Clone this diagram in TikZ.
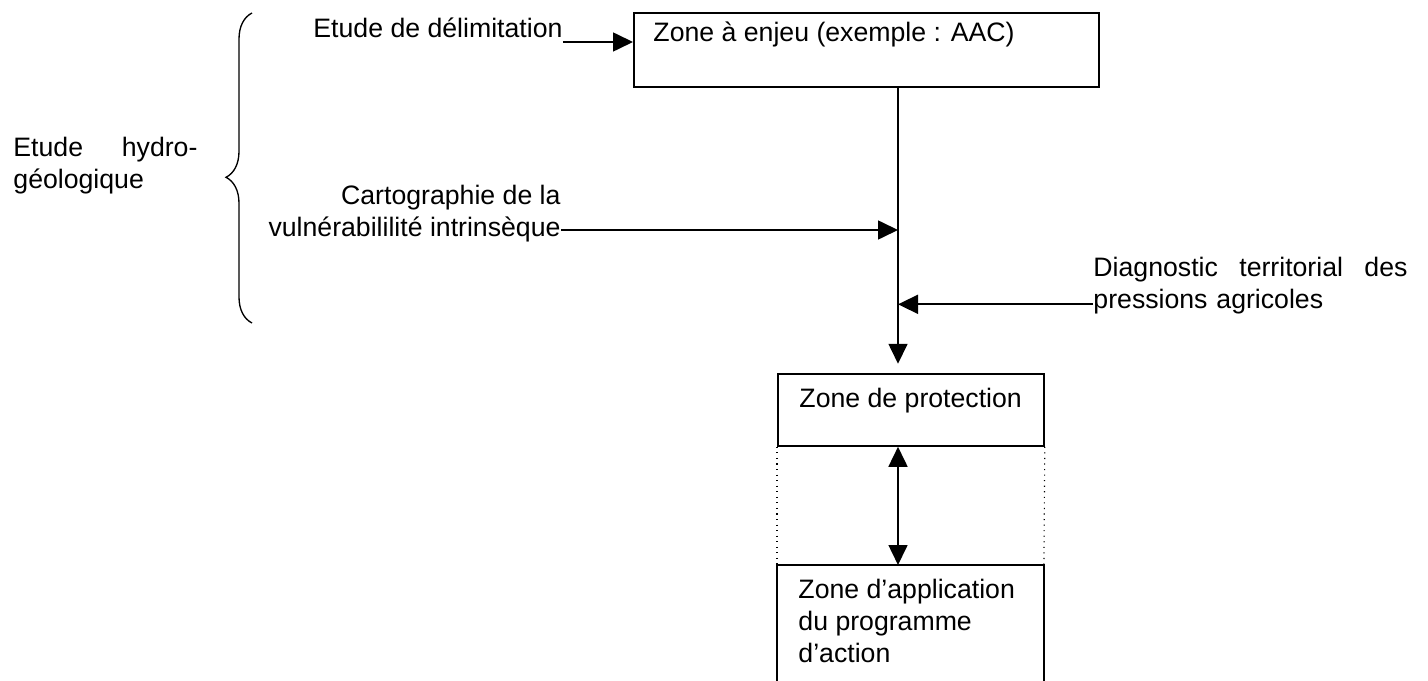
\documentclass[tikz,border=0pt]{standalone}
\usepackage{fontspec}
\setmainfont{Liberation Sans}
\usetikzlibrary{arrows.meta,decorations.pathreplacing}

\begin{document}
\begin{tikzpicture}[x=0.45pt,y=-0.45pt,
  every node/.style={inner sep=0pt,font=\fontsize{12pt}{14.4pt}\selectfont},
  zone/.style={draw,line width=0.8pt,anchor=north west},
  arr/.style={-{Triangle[length=9pt,width=8.5pt]},line width=0.9pt},
  dbl/.style={{Triangle[length=9pt,width=8.5pt]}-{Triangle[length=9pt,width=8.5pt]},line width=0.9pt}]
\useasboundingbox (0,0) rectangle (1428,681);

% boxes
\node[zone,minimum width=209.25pt,minimum height=33.3pt] (enjeu) at (633,12) {};
\node[zone,minimum width=119.7pt,minimum height=32.4pt] (protect) at (777,373) {};
\node[anchor=north west,minimum width=119.7pt,minimum height=52.2pt] (appli) at (777,565) {};
\draw[line width=0.8pt] (appli.south west) -- (appli.north west) -- (appli.north east) -- (appli.south east);

\node[anchor=base west] (enjeutxt) at ([shift={(20,30)}]enjeu.north west) {Zone à enjeu (exemple : AAC)};
\node[anchor=base west] (protecttxt) at ([shift={(22,34)}]protect.north west) {Zone de protection};
\node[anchor=base west,align=left] (applitxt) at ([shift={(21,97)}]appli.north west) {Zone d’application\\du programme\\d’action};

% studies
\node[anchor=base west] (delim) at (313,38) {Etude de délimitation};
\node[anchor=base west,text width=82.8pt,align=left] (hydro) at (13,157) {Etude\hfill hydro-\\géologique};
\node[anchor=base east,align=right] (carto) at (561,237) {Cartographie de la\\vulnérabililité intrinsèque};
\node[anchor=base west,text width=141.3pt,align=left] (diag) at (1093,277) {Diagnostic\hfill territorial\hfill des\\pressions agricoles};
\draw[line width=0.6pt,decorate,decoration={brace,amplitude=11.7pt,aspect=0.47}] (252,323) -- (252,13);

% arrows
\coordinate (xa) at (898,0);
\coordinate (d1) at ([yshift=-1.8pt]delim.base east);
\coordinate (c1) at ([yshift=3.15pt]carto.base east);
\coordinate (p1) at ([yshift=4.8pt]diag.south west);
\draw[arr] (d1) -- (d1 -| enjeu.west);
\draw[arr] (enjeu.south -| xa) -- ++(0,276);
\draw[arr] (c1) -- (c1 -| xa);
\draw[arr] (p1) -- (p1 -| xa);
\draw[dbl] (protect.south -| xa) -- (appli.north -| xa);
\draw[dotted,line width=0.5pt] (protect.south west) -- (appli.north west);
\draw[dotted,line width=0.5pt] (protect.south east) -- (appli.north east);
\end{tikzpicture}
\end{document}
